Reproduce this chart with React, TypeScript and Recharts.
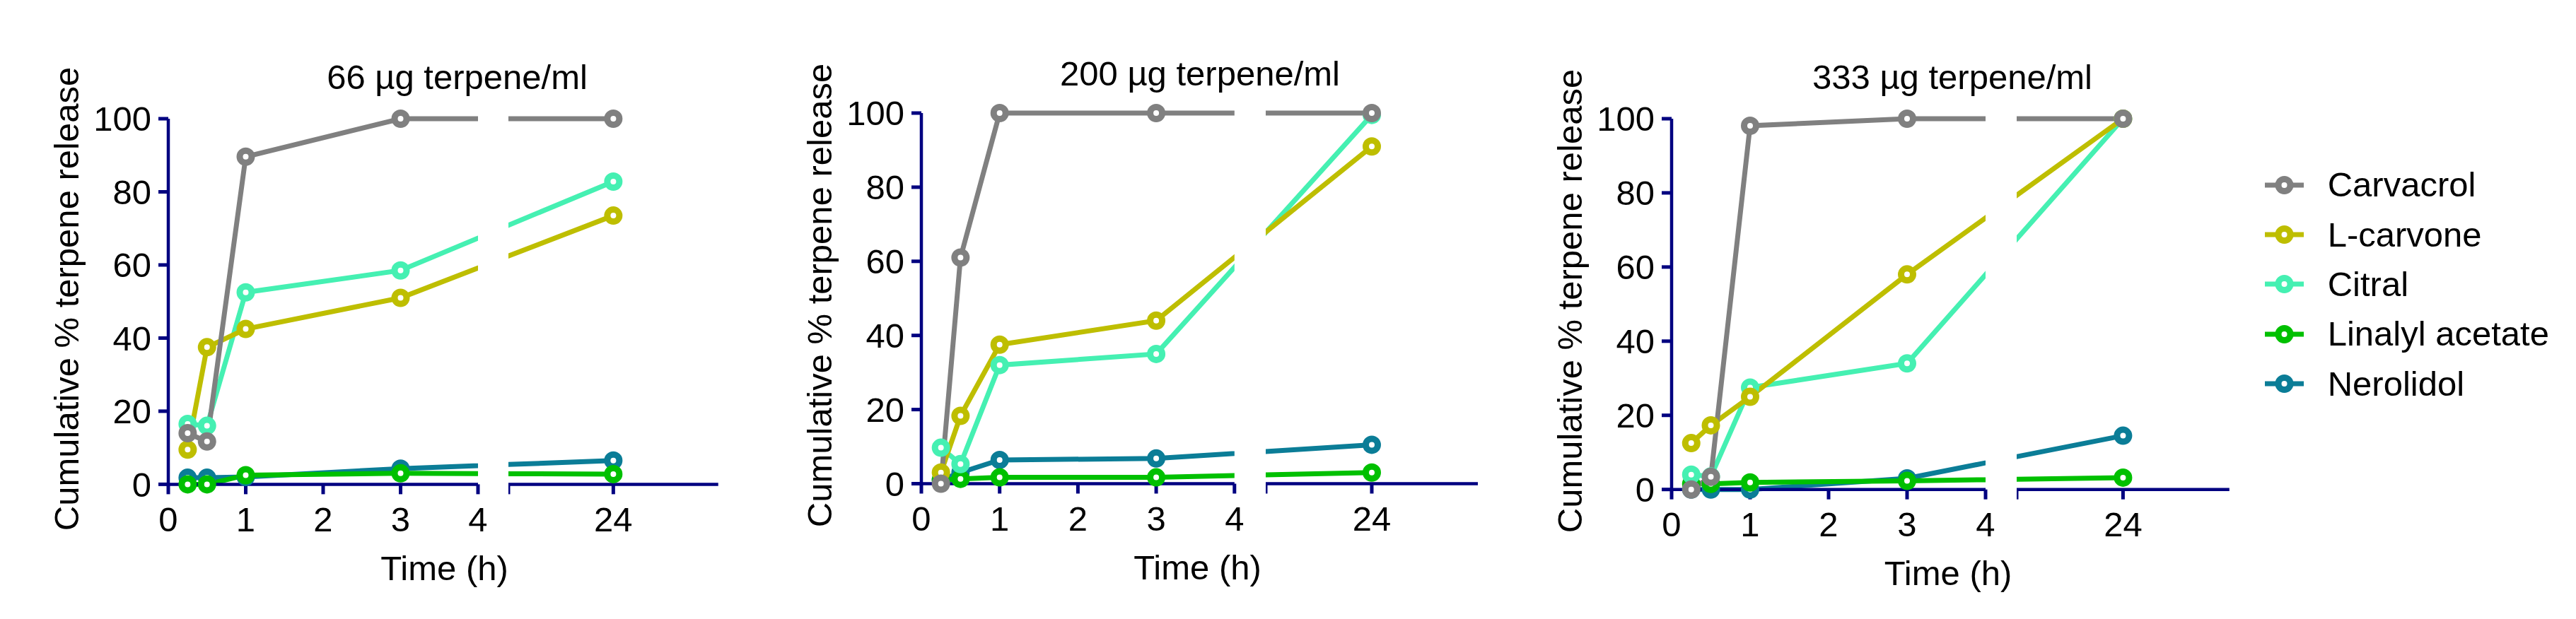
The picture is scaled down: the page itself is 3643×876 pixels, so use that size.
import { LineChart, Line, XAxis, YAxis } from "recharts"

const FONT = '"Liberation Sans", Arial, sans-serif'
const AXIS_COLOR = "#000080"

const TIMES = [0.25, 0.5, 1, 3, 24]
const Y_TICKS = [0, 20, 40, 60, 80, 100]
const LEFT_TICKS = [0, 1, 2, 3, 4]
const RIGHT_TICKS = [20, 24]

const SERIES = ["Carvacrol", "L-carvone", "Citral", "Linalyl acetate", "Nerolidol"]
const COLORS = ["#808080", "#BEBE00", "#45F0B2", "#00C000", "#0B7D97"]
const TITLES = ["66 µg terpene/ml", "200 µg terpene/ml", "333 µg terpene/ml"]

// 66 µg/ml
const CARVACROL_66 = [14, 11.7, 89.6, 100, 100]
const LCARVONE_66 = [9.5, 37.5, 42.5, 51, 73.5]
const CITRAL_66 = [16.5, 16, 52.5, 58.5, 82.8]
const LINALYL_66 = [0, 0, 2.5, 3, 2.8]
const NEROLIDOL_66 = [1.8, 1.8, 2, 4.3, 6.5]

// 200 µg/ml
const CARVACROL_200 = [0, 61, 100, 100, 100]
const LCARVONE_200 = [3, 18.3, 37.5, 44, 91]
const CITRAL_200 = [9.7, 5.3, 32, 35, 99.5]
const LINALYL_200 = [1, 1.3, 1.7, 1.7, 3]
const NEROLIDOL_200 = [1, 3, 6.4, 6.8, 10.5]

// 333 µg/ml
const CARVACROL_333 = [0, 3.4, 98.1, 100, 100]
const LCARVONE_333 = [12.5, 17.3, 25, 58, 100]
const CITRAL_333 = [4, 3.5, 27.5, 34, 100]
const LINALYL_333 = [1.5, 1.5, 1.9, 2.3, 3.2]
const NEROLIDOL_333 = [0, 0, 0, 3, 14.5]

const PANEL_VALUES = [
  [CARVACROL_66, LCARVONE_66, CITRAL_66, LINALYL_66, NEROLIDOL_66],
  [CARVACROL_200, LCARVONE_200, CITRAL_200, LINALYL_200, NEROLIDOL_200],
  [CARVACROL_333, LCARVONE_333, CITRAL_333, LINALYL_333, NEROLIDOL_333],
]

// broken x axis: 0-4 h, gap, then 20-28 h squeezed into a short segment
const GAP_START = 4
const GAP_END = 4.4
const SEG2_FROM = 20
const SEG2_TO = 28
const SEG2_WIDTH = 2.71
const pos = (t: number) =>
  t <= GAP_START ? t : GAP_END + ((t - SEG2_FROM) / (SEG2_TO - SEG2_FROM)) * SEG2_WIDTH

// page geometry of each panel: y-axis x, y=100 pixel, y=0 pixel, px per hour
const LAYOUT = [
  { axisX: 237.5, top: 168.3, base: 685.7, unit: 109.5, titleX: 646.5, titleBase: 126.7 },
  { axisX: 1302.5, top: 159.5, base: 684, unit: 110.7, titleX: 1697, titleBase: 121.7 },
  { axisX: 2364, top: 168, base: 692.7, unit: 111, titleX: 2761, titleBase: 126.7 },
]

const MT = 30
const XH = 100
const YW = 120
const MR = 40

const tickStyle = { fontSize: 49, fill: "#000", fontFamily: FONT }

function marker(color: string) {
  return (props: any) => {
    const { cx, cy, index } = props
    if (cx == null || cy == null) return <g key={index} />
    return <circle key={index} cx={cx} cy={cy} r={8.5} fill="#fff" stroke={color} strokeWidth={9} />
  }
}

function seriesLines() {
  return [4, 3, 2, 1, 0].map((i) => (
    <Line
      key={SERIES[i]}
      type="linear"
      dataKey={`s${i}`}
      stroke={COLORS[i]}
      strokeWidth={7}
      dot={marker(COLORS[i])}
      activeDot={false}
      isAnimationActive={false}
    />
  ))
}

function Panel({ index }: { index: number }) {
  const geo = LAYOUT[index]
  const values = PANEL_VALUES[index]
  const data = TIMES.map((t, k) => {
    const row: Record<string, number> = { x: pos(t) }
    values.forEach((v, i) => (row[`s${i}`] = v[k]))
    return row
  })
  const plotH = geo.base - geo.top
  const leftW = GAP_START * geo.unit
  const rightW = (pos(SEG2_TO) - GAP_END) * geo.unit
  const axisProps = {
    stroke: AXIS_COLOR,
    strokeWidth: 4.5,
    tickSize: 14,
    tick: tickStyle,
    tickLine: { stroke: AXIS_COLOR, strokeWidth: 5 },
    axisLine: { stroke: AXIS_COLOR, strokeWidth: 4.5 },
  }
  const textBase = { position: "absolute" as const, fontFamily: FONT, fontSize: 49, lineHeight: 1, whiteSpace: "nowrap" as const, color: "#000" }

  return (
    <>
      <div style={{ position: "absolute", left: geo.axisX - YW, top: geo.top - MT }}>
        <LineChart width={YW + leftW + MR} height={MT + plotH + XH} data={data} margin={{ top: MT, right: MR, bottom: 0, left: 0 }}>
          <XAxis
            type="number"
            dataKey="x"
            domain={[0, GAP_START]}
            allowDataOverflow
            ticks={LEFT_TICKS}
            height={XH}
            tickMargin={18}
            {...axisProps}
          />
          <YAxis
            type="number"
            domain={[0, 100]}
            ticks={Y_TICKS}
            width={YW}
            tickMargin={10}
            {...axisProps}
          />
          {seriesLines()}
        </LineChart>
      </div>
      <div style={{ position: "absolute", left: geo.axisX + GAP_END * geo.unit, top: geo.top - MT }}>
        <LineChart width={rightW + MR} height={MT + plotH + XH} data={data} margin={{ top: MT, right: MR, bottom: 0, left: 0 }}>
          <XAxis
            type="number"
            dataKey="x"
            domain={[GAP_END, pos(SEG2_TO)]}
            allowDataOverflow
            ticks={RIGHT_TICKS.map(pos)}
            tickFormatter={(v: number) => (Math.abs(v - pos(24)) < 1e-6 ? "24" : "")}
            height={XH}
            tickMargin={18}
            {...axisProps}
          />
          <YAxis type="number" domain={[0, 100]} hide />
          {seriesLines()}
        </LineChart>
      </div>
      <div style={{ ...textBase, left: geo.titleX, top: geo.titleBase - 41.5, transform: "translateX(-50%)" }}>
        {TITLES[index]}
      </div>
      <div
        style={{
          ...textBase,
          left: geo.axisX - 143.7,
          top: (geo.top + geo.base) / 2 - 4,
          transform: "translate(-50%, -50%) rotate(-90deg)",
        }}
      >
        Cumulative % terpene release
      </div>
      <div style={{ ...textBase, left: geo.axisX + 391, top: geo.base + 94.5, transform: "translateX(-50%)" }}>
        Time (h)
      </div>
    </>
  )
}

function Legend() {
  return (
    <div style={{ position: "absolute", left: 3202.7, top: 226.5, fontFamily: FONT, fontSize: 49, lineHeight: 1 }}>
      {SERIES.map((name, i) => (
        <div key={name} style={{ display: "flex", alignItems: "center", height: 70.4 }}>
          <svg width={55} height={30} style={{ overflow: "visible" }}>
            <line x1={0} y1={15} x2={55} y2={15} stroke={COLORS[i]} strokeWidth={7} />
            <circle cx={27.5} cy={15} r={8.5} fill="#fff" stroke={COLORS[i]} strokeWidth={9} />
          </svg>
          <span style={{ marginLeft: 34, whiteSpace: "nowrap" }}>{name}</span>
        </div>
      ))}
    </div>
  )
}

export default function App() {
  return (
    <div style={{ position: "absolute", left: 0, top: 0, width: 3643, height: 876, background: "#fff", overflow: "hidden" }}>
      {[0, 1, 2].map((i) => (
        <Panel key={i} index={i} />
      ))}
      <Legend />
    </div>
  )
}
